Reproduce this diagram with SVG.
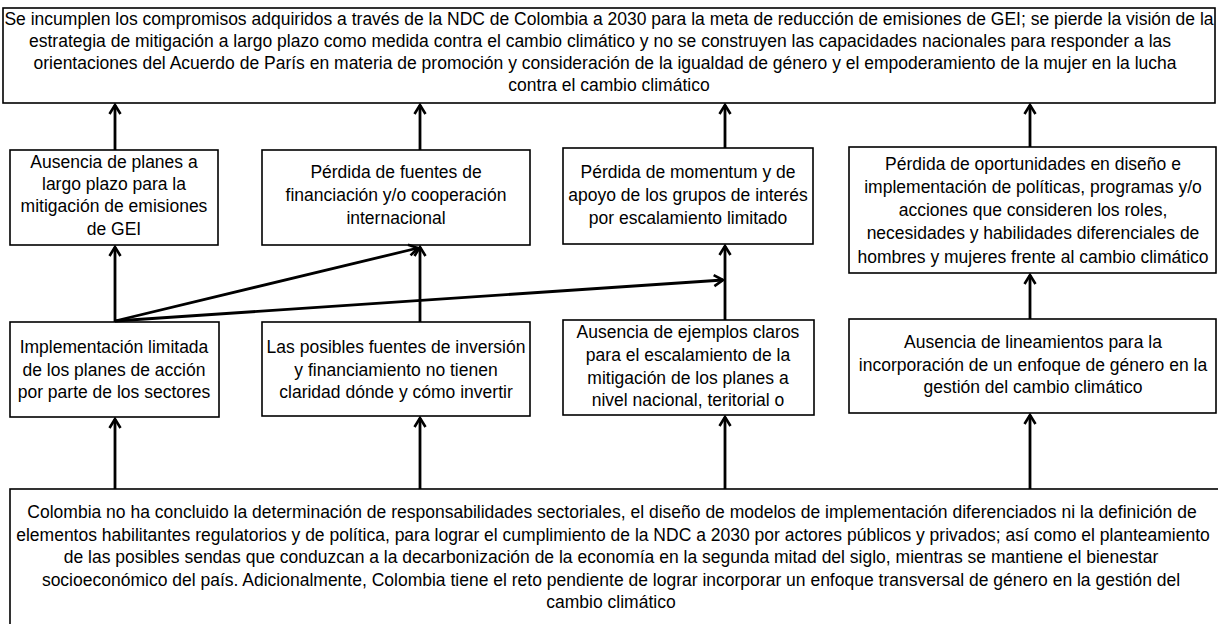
<svg xmlns="http://www.w3.org/2000/svg" width="1218" height="624" viewBox="0 0 1218 624">
<style>
.box{fill:#fff;stroke:#000;stroke-width:1.6}
.t{font-family:"Liberation Sans",Arial,sans-serif;font-size:17.5px;fill:#000;text-anchor:middle}
.c{stroke:#000;stroke-width:2.8;fill:none}
</style>
<defs>
<marker id="ah" viewBox="0 0 14 14" refX="12" refY="7" markerWidth="14" markerHeight="14" markerUnits="userSpaceOnUse" orient="auto">
<path d="M3,1.5 L12,7 L3,12.5" fill="none" stroke="#000" stroke-width="2.6"/>
</marker>
</defs>
<rect width="1218" height="624" fill="#fff"/>
<g id="top">
<rect class="box" x="3" y="8" width="1212" height="95"/>
<text class="t" x="609" y="25">Se incumplen los compromisos adquiridos a través de la NDC de Colombia a 2030 para la meta de reducción de emisiones de GEI; se pierde la visión de la</text>
<text class="t" x="600" y="47">estrategia de mitigación a largo plazo como medida contra el cambio climático y no se construyen las capacidades nacionales para responder a las</text>
<text class="t" x="605" y="69">orientaciones del Acuerdo de París en materia de promoción y consideración de la igualdad de género y el empoderamiento de la mujer en la lucha</text>
<text class="t" x="609" y="91">contra el cambio climático</text>
</g>
<g id="m1">
<rect class="box" x="10" y="150" width="208" height="95"/>
<text class="t" x="114" y="168">Ausencia de planes a</text>
<text class="t" x="114" y="190">largo plazo para la</text>
<text class="t" x="114" y="212">mitigación de emisiones</text>
<text class="t" x="114" y="235">de GEI</text>
</g>
<g id="m2">
<rect class="box" x="262" y="150" width="268" height="95"/>
<text class="t" x="396" y="178">Pérdida de fuentes de</text>
<text class="t" x="396" y="201">financiación y/o cooperación</text>
<text class="t" x="396" y="224">internacional</text>
</g>
<g id="m3">
<rect class="box" x="563" y="148" width="250" height="96"/>
<text class="t" x="688" y="178">Pérdida de momentum y de</text>
<text class="t" x="688" y="201">apoyo de los grupos de interés</text>
<text class="t" x="688" y="224">por escalamiento limitado</text>
</g>
<g id="m4">
<rect class="box" x="849" y="147" width="367" height="126"/>
<text class="t" x="1033" y="170">Pérdida de oportunidades en diseño e</text>
<text class="t" x="1033" y="193">implementación de políticas, programas y/o</text>
<text class="t" x="1033" y="216">acciones que consideren los  roles,</text>
<text class="t" x="1033" y="239">necesidades y habilidades diferenciales de</text>
<text class="t" x="1033" y="263">hombres y mujeres frente al cambio climático</text>
</g>
<g id="b1">
<rect class="box" x="10" y="322" width="209" height="95"/>
<text class="t" x="114" y="353">Implementación limitada</text>
<text class="t" x="114" y="376">de los planes de acción</text>
<text class="t" x="114" y="398">por parte de los sectores</text>
</g>
<g id="b2">
<rect class="box" x="262" y="322" width="268" height="94"/>
<text class="t" x="396" y="353">Las posibles fuentes de inversión</text>
<text class="t" x="396" y="376">y financiamiento no tienen</text>
<text class="t" x="396" y="398">claridad dónde y cómo invertir</text>
</g>
<g id="b3">
<rect class="box" x="563" y="320" width="251" height="95"/>
<text class="t" x="688" y="338">Ausencia de ejemplos claros</text>
<text class="t" x="688" y="361">para el escalamiento de la</text>
<text class="t" x="688" y="384">mitigación de los planes a</text>
<text class="t" x="688" y="406">nivel nacional, teritorial o</text>
</g>
<g id="b4">
<rect class="box" x="849" y="319" width="367" height="94"/>
<text class="t" x="1033" y="348">Ausencia de lineamientos para la</text>
<text class="t" x="1033" y="371">incorporación de un enfoque de género en la</text>
<text class="t" x="1033" y="393">gestión del cambio climático</text>
</g>
<g id="bottom">
<rect class="box" x="10" y="489" width="1220" height="150"/>
<text class="t" x="612" y="518">Colombia no ha concluido la determinación de responsabilidades sectoriales, el diseño de modelos de implementación diferenciados ni la definición de</text>
<text class="t" x="613" y="541">elementos habilitantes regulatorios y de política, para lograr el cumplimiento de la NDC a 2030 por actores públicos y privados; así como el planteamiento</text>
<text class="t" x="611" y="563">de las posibles sendas que conduzcan a la decarbonización de la economía en la segunda mitad del siglo, mientras se mantiene el bienestar</text>
<text class="t" x="611" y="586">socioeconómico del país. Adicionalmente, Colombia tiene el reto pendiente de lograr incorporar un enfoque transversal de género en la gestión del</text>
<text class="t" x="611" y="608">cambio climático</text>
</g>
<g id="connectors">
<line class="c" x1="115" y1="150" x2="115" y2="105" marker-end="url(#ah)"/>
<line class="c" x1="420" y1="150" x2="420" y2="105" marker-end="url(#ah)"/>
<line class="c" x1="725" y1="148" x2="725" y2="105" marker-end="url(#ah)"/>
<line class="c" x1="1030" y1="147" x2="1030" y2="105" marker-end="url(#ah)"/>
<line class="c" x1="115" y1="322" x2="115" y2="247" marker-end="url(#ah)"/>
<line class="c" x1="420" y1="322" x2="420" y2="247" marker-end="url(#ah)"/>
<line class="c" x1="725" y1="320" x2="725" y2="246" marker-end="url(#ah)"/>
<line class="c" x1="1030" y1="319" x2="1030" y2="275" marker-end="url(#ah)"/>
<line class="c" x1="115" y1="321" x2="418" y2="248" marker-end="url(#ah)"/>
<line class="c" x1="115" y1="321" x2="723" y2="280" marker-end="url(#ah)"/>
<line class="c" x1="115" y1="489" x2="115" y2="419" marker-end="url(#ah)"/>
<line class="c" x1="420" y1="489" x2="420" y2="418" marker-end="url(#ah)"/>
<line class="c" x1="725" y1="489" x2="725" y2="417" marker-end="url(#ah)"/>
<line class="c" x1="1030" y1="489" x2="1030" y2="415" marker-end="url(#ah)"/>
</g>
</svg>
